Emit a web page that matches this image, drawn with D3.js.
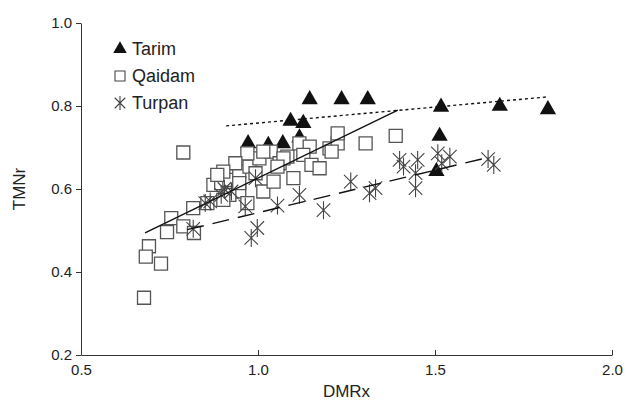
<!DOCTYPE html>
<html>
<head>
<meta charset="utf-8">
<script src="https://cdnjs.cloudflare.com/ajax/libs/d3/7.8.5/d3.min.js"></script>
<style>
  body { margin: 0; background: #fff; }
  text { font-family: "Liberation Sans", Arial, sans-serif; fill: #222; }
</style>
</head>
<body>
<div id="chart"></div>
<script>
// Tarim (filled triangles)
var tarimX = [1.146, 1.236, 1.310, 1.517, 1.683, 1.819, 1.092, 1.128, 0.972, 1.029, 1.070, 1.117, 1.513, 1.504];
var tarimY = [0.818, 0.818, 0.818, 0.800, 0.802, 0.794, 0.766, 0.761, 0.712, 0.708, 0.712, 0.726, 0.730, 0.645];

// Qaidam (open squares)
var qaidamX = [0.678, 0.692, 0.683, 0.726, 0.789, 0.743, 0.755, 0.789, 0.819, 0.817, 0.857, 0.874, 0.896, 0.919,
               0.947, 0.947, 0.976, 0.970, 0.919, 1.015, 1.004, 1.036, 0.993, 1.044, 1.061, 1.083, 1.100, 1.117,
               1.146, 1.128, 1.151, 1.174, 1.202, 1.225, 1.225, 1.304, 1.389, 0.970, 0.936, 0.902, 0.885, 1.015,
               1.072, 1.055, 1.208, 0.947, 0.902];
var qaidamY = [0.338, 0.462, 0.437, 0.420, 0.688, 0.496, 0.530, 0.510, 0.494, 0.554, 0.566, 0.610, 0.614, 0.622,
               0.594, 0.642, 0.654, 0.566, 0.586, 0.594, 0.674, 0.690, 0.638, 0.618, 0.662, 0.678, 0.626, 0.710,
               0.702, 0.682, 0.658, 0.650, 0.698, 0.710, 0.734, 0.710, 0.728, 0.686, 0.662, 0.642, 0.634, 0.690,
               0.674, 0.654, 0.690, 0.614, 0.574];

// Turpan (asterisks)
var turpanX = [0.817, 0.851, 0.896, 0.925, 0.964, 0.981, 0.998, 0.993, 1.055, 1.117, 1.185, 1.262, 1.315, 1.332,
               1.400, 1.411, 1.451, 1.445, 1.445, 1.508, 1.519, 1.542, 1.650, 1.666, 0.865, 0.905];
var turpanY = [0.504, 0.566, 0.586, 0.594, 0.558, 0.482, 0.506, 0.626, 0.560, 0.586, 0.549, 0.618, 0.590, 0.602,
               0.670, 0.654, 0.670, 0.638, 0.602, 0.686, 0.662, 0.678, 0.672, 0.658, 0.570, 0.600];

// trend lines: [x0, y0, x1, y1]
var qaidamFit = [0.681, 0.494, 1.395, 0.790];
var tarimFit = [0.910, 0.752, 1.819, 0.822];
var turpanFit = [0.800, 0.502, 1.640, 0.674];

var xTicks = [0.5, 1.0, 1.5, 2.0];
var yTicks = [0.2, 0.4, 0.6, 0.8, 1.0];

var legendNames = ["Tarim", "Qaidam", "Turpan"];

var width = 627, height = 401;
var margin = {top: 23, right: 15, bottom: 46, left: 81};

var svg = d3.select("#chart").append("svg")
    .attr("width", width)
    .attr("height", height);

var x = d3.scaleLinear().domain([0.5, 2.0]).range([margin.left, width - margin.right]);
var y = d3.scaleLinear().domain([0.2, 1.0]).range([height - margin.bottom, margin.top]);

// axes
var xAxis = svg.append("g")
    .attr("transform", "translate(0," + (height - margin.bottom) + ")")
    .call(d3.axisBottom(x).tickValues(xTicks).tickFormat(d3.format(".1f")).tickSizeInner(-5).tickSizeOuter(0));
xAxis.selectAll("text").attr("dy", "1.15em").style("font-size", "15px");

var yAxis = svg.append("g")
    .attr("transform", "translate(" + margin.left + ",0)")
    .call(d3.axisLeft(y).tickValues(yTicks).tickFormat(d3.format(".1f")).tickSizeInner(5).tickSizeOuter(0));
yAxis.selectAll("text").attr("x", -9).style("font-size", "15px");

svg.selectAll(".domain, .tick line").attr("stroke", "#333");

svg.append("text")
    .attr("x", (x(0.5) + x(2.0)) / 2)
    .attr("y", 397)
    .attr("text-anchor", "middle")
    .style("font-size", "17px")
    .text("DMRx");

svg.append("text")
    .attr("transform", "translate(25," + y(0.6) + ") rotate(-90)")
    .attr("text-anchor", "middle")
    .style("font-size", "17px")
    .text("TMNr");

// marker shapes
var triPath = d3.symbol().type(d3.symbolTriangle).size(115)();
var sqPath = "M-6.5,-6.5H6.5V6.5H-6.5Z";
function starPath(r) {
    var d = r * 0.75;
    return "M" + (-d) + "," + (-d) + "L" + d + "," + d +
           "M" + d + "," + (-d) + "L" + (-d) + "," + d +
           "M0," + (-r) + "L0," + r;
}

// Tarim
svg.append("g").selectAll("path")
    .data(d3.zip(tarimX, tarimY))
    .enter().append("path")
    .attr("d", triPath)
    .attr("transform", function (d) { return "translate(" + x(d[0]) + "," + (y(d[1]) + 1) + ")"; })
    .attr("fill", "#111");

// Qaidam
svg.append("g").selectAll("path")
    .data(d3.zip(qaidamX, qaidamY))
    .enter().append("path")
    .attr("d", sqPath)
    .attr("transform", function (d) { return "translate(" + x(d[0]) + "," + y(d[1]) + ")"; })
    .attr("fill", "#fff")
    .attr("stroke", "#555")
    .attr("stroke-width", 1.3);

// Turpan
svg.append("g").selectAll("path")
    .data(d3.zip(turpanX, turpanY))
    .enter().append("path")
    .attr("d", starPath(9))
    .attr("transform", function (d) { return "translate(" + x(d[0]) + "," + y(d[1]) + ")"; })
    .attr("fill", "none")
    .attr("stroke", "#444")
    .attr("stroke-width", 1.1);

// trend lines
function fitLine(f, dash) {
    svg.append("line")
        .attr("x1", x(f[0])).attr("y1", y(f[1]))
        .attr("x2", x(f[2])).attr("y2", y(f[3]))
        .attr("stroke", "#111")
        .attr("stroke-width", 1.4)
        .attr("stroke-dasharray", dash);
}
fitLine(qaidamFit, null);
fitLine(tarimFit, "3,3");
fitLine(turpanFit, "17,9");

// legend
var legend = svg.append("g").selectAll("g")
    .data(legendNames)
    .enter().append("g")
    .attr("transform", function (d, i) { return "translate(120," + (49 + i * 27) + ")"; });

legend.append("path")
    .attr("d", function (d, i) {
        if (i == 0) return d3.symbol().type(d3.symbolTriangle).size(80)();
        if (i == 1) return "M-5,-5H5V5H-5Z";
        return starPath(7);
    })
    .attr("fill", function (d, i) { return i == 0 ? "#111" : (i == 1 ? "#fff" : "none"); })
    .attr("stroke", function (d, i) { return i == 0 ? "none" : "#444"; })
    .attr("stroke-width", 1.1);

legend.append("text")
    .attr("x", 12)
    .attr("dy", "0.36em")
    .style("font-size", "18px")
    .text(function (d) { return d; });
</script>
</body>
</html>
